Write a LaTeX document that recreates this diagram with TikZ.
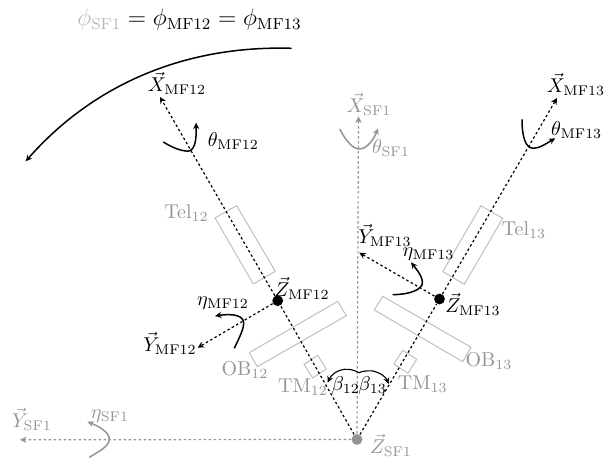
\documentclass[tikz,border=0pt]{standalone}
\usetikzlibrary{arrows.meta}
\definecolor{axisgrey}{gray}{0.58}
\definecolor{labelgrey}{gray}{0.58}
\definecolor{boxgrey}{gray}{0.75}
\definecolor{phigrey}{gray}{0.72}
\tikzset{
  axisline/.style={line width=0.6pt,dash pattern=on 1.25pt off 1.25pt,-{Stealth[length=3.2pt,width=3.2pt]}},
  blackaxis/.style={axisline,black},
  greyaxis/.style={axisline,axisgrey},
  rotarrow/.style={line width=0.75pt,-{Stealth[length=3.2pt,width=3pt]}},
  blackrot/.style={rotarrow,black},
  thinrot/.style={blackrot,line width=0.55pt},
  greyrot/.style={rotarrow,axisgrey},
  instbox/.style={draw=boxgrey,line width=0.5pt},
  graylabel/.style={text=labelgrey,inner sep=0pt},
  blacklabel/.style={text=black,inner sep=0pt},
  blackdot/.style={circle,fill=black,inner sep=0pt,minimum size=5.4pt},
  greydot/.style={circle,fill=axisgrey,inner sep=0pt,minimum size=5.4pt}
}
\begin{document}
\begin{tikzpicture}[x=0.5pt,y=-0.5pt]
\useasboundingbox (0,0) rectangle (611,458);
% instruments
\draw[instbox] (215,218) -- (236.7,205.7) -- (275.3,271.3) -- (253.3,284) -- cycle;
\draw[instbox] (249.3,352.7) -- (337.7,301.3) -- (346.3,315.7) -- (257.3,366.7) -- cycle;
\draw[instbox] (304,364.5) -- (317.7,355.3) -- (326.3,369) -- (312.7,378) -- cycle;
\draw[instbox] (481,205.7) -- (502.7,218.3) -- (464.3,284.3) -- (442.7,271.7) -- cycle;
\draw[instbox] (382.7,296.3) -- (471,347.3) -- (462.7,361.7) -- (374.3,310) -- cycle;
\draw[instbox] (402.7,350.3) -- (416.7,359.3) -- (408,373.3) -- (394,364) -- cycle;
% reference points
\node[greydot] (zsf) at (357,439.5) {};
\node[blackdot] (zmf12) at (277.7,300.7) {};
\node[blackdot] (zmf13) at (439.5,299) {};
\coordinate (xsfend) at (358.5,116.5);
\coordinate (ysfend) at (20,439.8);
\coordinate (xmf12end) at (160,97);
\coordinate (ymf12end) at (197.7,347.7);
\coordinate (xmf13end) at (557,98);
\coordinate (ymf13end) at (359.3,252.7);
% axes
\draw[greyaxis] (zsf) -- (xsfend);
\draw[greyaxis] (zsf) -- (ysfend);
\draw[blackaxis] (zsf) -- (zmf12) -- (xmf12end);
\draw[blackaxis] (zmf12) -- (ymf12end);
\draw[blackaxis] (zsf) -- (zmf13) -- (xmf13end);
\draw[blackaxis] (zmf13) -- (ymf13end);
% rotations
\draw[blackrot] (291.7,48.3) .. controls (180,45) and (90,88) .. (25.7,161.3);
\draw[blackrot] (163.3,142) .. controls (176,150) and (186,152) .. (190,150.7) .. controls (196,148) and (196.5,135) .. (196,122.7);
\draw[greyrot] (339.7,129) .. controls (346,141) and (353,149) .. (359.3,149) .. controls (367,149) and (374,139) .. (378,128.3);
\draw[blackrot] (522,119.3) .. controls (522,138) and (526,148) .. (533,148.3) .. controls (540,148.5) and (547,143) .. (555.3,138.3);
\draw[blackrot] (234.3,348.3) .. controls (240,336) and (245,327) .. (243.3,320.7) .. controls (241,314) and (228,314) .. (215,316);
\draw[greyrot] (89.3,457.3) .. controls (100,451) and (109,446) .. (109.3,439.3) .. controls (109.5,432) and (98,426) .. (87.3,421.7);
\draw[blackrot] (392.7,294.7) .. controls (405,294.5) and (418,292) .. (422,285) .. controls (424,278) and (417,270) .. (411,262.3);
\draw[thinrot] (358.7,372.7) .. controls (354,370) and (350,369) .. (344.3,369.3) .. controls (337,370) and (331,375) .. (327.7,382.7);
\draw[thinrot] (358.7,372.7) .. controls (363,371) and (368,370.5) .. (373,371) .. controls (380,372.5) and (386,377) .. (388.7,384);
% labels
\node[blacklabel,font=\large] (philabel) at (189.5,20) {$\textcolor{phigrey}{\phi_{\mathrm{SF1}}}=\phi_{\mathrm{MF12}}=\phi_{\mathrm{MF13}}$};
\node[blacklabel] (xmf12lab) at (177,83) {$\vec{X}_{\mathrm{MF12}}$};
\node[blacklabel] (thmf12lab) at (233.3,141) {$\theta_{\mathrm{MF12}}$};
\node[graylabel] (xsflab) at (369,104) {$\vec{X}_{\mathrm{SF1}}$};
\node[graylabel] (thsflab) at (391,148) {$\theta_{\mathrm{SF1}}$};
\node[blacklabel] (xmf13lab) at (576,84) {$\vec{X}_{\mathrm{MF13}}$};
\node[blacklabel] (thmf13lab) at (576.7,130) {$\theta_{\mathrm{MF13}}$};
\node[graylabel] (tel12lab) at (186.5,213) {$\mathrm{Tel}_{12}$};
\node[graylabel] (tel13lab) at (524,230) {$\mathrm{Tel}_{13}$};
\node[blacklabel] (ymf13lab) at (385,235) {$\vec{Y}_{\mathrm{MF13}}$};
\node[blacklabel] (etamf13lab) at (428.5,254) {$\eta_{\mathrm{MF13}}$};
\node[blacklabel] (zmf12lab) at (302,288) {$\vec{Z}_{\mathrm{MF12}}$};
\node[blacklabel] (zmf13lab) at (473,304) {$\vec{Z}_{\mathrm{MF13}}$};
\node[blacklabel] (etamf12lab) at (223,303) {$\eta_{\mathrm{MF12}}$};
\node[blacklabel] (ymf12lab) at (170,343) {$\vec{Y}_{\mathrm{MF12}}$};
\node[graylabel] (ob12lab) at (245,370) {$\mathrm{OB}_{12}$};
\node[graylabel] (tm12lab) at (303,387) {$\mathrm{TM}_{12}$};
\node[blacklabel] (b12lab) at (345.8,386) {$\beta_{12}$};
\node[blacklabel] (b13lab) at (372.6,386) {$\beta_{13}$};
\node[graylabel] (tm13lab) at (422.8,384) {$\mathrm{TM}_{13}$};
\node[graylabel] (ob13lab) at (489,361) {$\mathrm{OB}_{13}$};
\node[graylabel] (ysflab) at (32,419) {$\vec{Y}_{\mathrm{SF1}}$};
\node[graylabel] (etasflab) at (110,416) {$\eta_{\mathrm{SF1}}$};
\node[graylabel] (zsflab) at (391,445) {$\vec{Z}_{\mathrm{SF1}}$};
\end{tikzpicture}
\end{document}
